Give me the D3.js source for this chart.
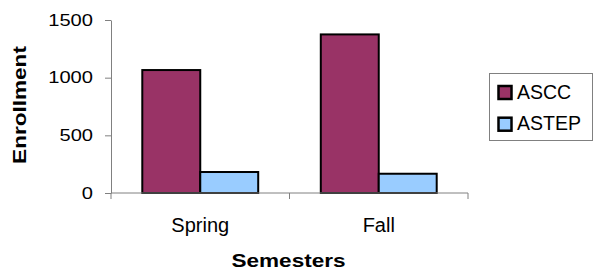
<!DOCTYPE html>
<html>
<head>
<meta charset="utf-8">
<script src="https://cdn.jsdelivr.net/npm/d3@7"></script>
<style>
  body { margin: 0; background: #fff; }
  text { font-family: "Liberation Sans", Arial, sans-serif; fill: #000; }
</style>
</head>
<body>
<svg id="chart" width="593" height="276"></svg>
<script>
// data
const semesters = ["Spring", "Fall"]
const seriesNames = ["ASCC", "ASTEP"]
const ascc = [1066, 1375]
const astep = [182, 167]
const yTicks = [0, 500, 1000, 1500]

const colors = ["#993366", "#99CCFF"]

// the original text is a bit wider than Arial, stretch it a little
const stretch = 1.22

const svg = d3.select("#chart")

// plot area
const plotLeft = 111, plotRight = 468, plotTop = 20, plotBottom = 193

const x0 = d3.scaleBand()
  .domain(semesters)
  .range([plotLeft, plotRight])

const x1 = d3.scaleBand()
  .domain(seriesNames)
  .range([0, x0.bandwidth()])
  .paddingOuter(0.54)

const y = d3.scaleLinear()
  .domain([0, 1500])
  .range([plotBottom, plotTop])

// y axis
const yAxis = svg.append("g")
  .attr("transform", `translate(${plotLeft},0)`)
  .call(d3.axisLeft(y).tickValues(yTicks).tickFormat(d3.format("d")).tickSize(6).tickSizeOuter(0))
yAxis.selectAll("path, line").attr("stroke", "#808080")
yAxis.selectAll("text")
  .style("font-size", "16.5px")
  .style("font-family", "Liberation Sans, Arial")
  .attr("fill", "#000")
  .attr("x", -18 / stretch)
  .attr("transform", `scale(${stretch},1)`)

// bars
const rows = semesters.map((s, i) => ({ semester: s, values: [ascc[i], astep[i]] }))

const groups = svg.selectAll("g.grp")
  .data(rows)
  .join("g")
  .attr("class", "grp")
  .attr("transform", d => `translate(${x0(d.semester)},0)`)

groups.selectAll("rect")
  .data(d => d.values.map((v, i) => ({ key: seriesNames[i], value: v, i: i })))
  .join("rect")
  .attr("x", d => x1(d.key))
  .attr("y", d => y(d.value))
  .attr("width", x1.bandwidth())
  .attr("height", d => y(0) - y(d.value))
  .attr("fill", d => colors[d.i])
  .attr("stroke", "black")
  .attr("stroke-width", 2)

// x axis line + boundary ticks
svg.append("line")
  .attr("x1", plotLeft).attr("x2", plotRight)
  .attr("y1", plotBottom).attr("y2", plotBottom)
  .attr("stroke", "#808080")
const bounds = semesters.map(s => x0(s)).concat([plotRight])
svg.selectAll("line.xt")
  .data(bounds)
  .join("line")
  .attr("class", "xt")
  .attr("x1", d => d).attr("x2", d => d)
  .attr("y1", plotBottom).attr("y2", plotBottom + 6)
  .attr("stroke", "#808080")

svg.selectAll("text.xl")
  .data(semesters)
  .join("text")
  .attr("class", "xl")
  .attr("x", d => x0(d) + x0.bandwidth() / 2)
  .attr("y", 232)
  .attr("text-anchor", "middle")
  .style("font-size", "20px")
  .text(d => d)

// axis titles
svg.append("text")
  .attr("transform", `translate(${(plotLeft + plotRight) / 2 - 1},267) scale(${stretch},1)`)
  .attr("text-anchor", "middle")
  .style("font-size", "18.5px").style("font-weight", "bold")
  .text("Semesters")

svg.append("text")
  .attr("transform", `translate(26,105) rotate(-90) scale(${stretch},1)`)
  .attr("text-anchor", "middle")
  .style("font-size", "18.5px").style("font-weight", "bold")
  .text("Enrollment")

// legend
svg.append("rect")
  .attr("x", 489.5).attr("y", 73.5)
  .attr("width", 103).attr("height", 67)
  .attr("fill", "white").attr("stroke", "#808080")

seriesNames.forEach(function(n, i) {
  svg.append("rect")
    .attr("x", 498.5).attr("y", 86 + i * 31.7)
    .attr("width", 13).attr("height", 13)
    .attr("fill", colors[i]).attr("stroke", "black").attr("stroke-width", 2.5)
  svg.append("text")
    .attr("x", 517).attr("y", 98.5 + i * 31.7)
    .style("font-size", "19.5px")
    .text(n)
})
</script>
</body>
</html>
